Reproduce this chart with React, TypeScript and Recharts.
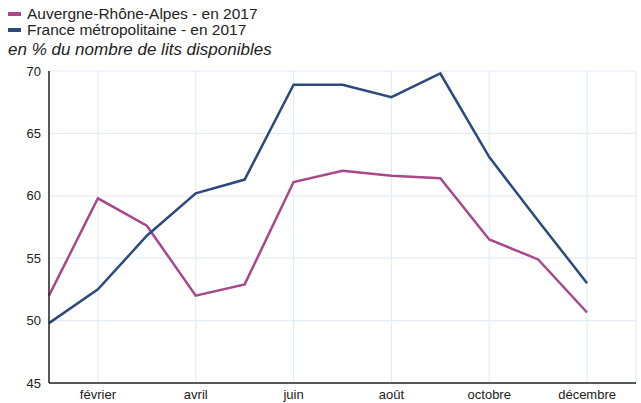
import React from "react";
import { LineChart, Line, XAxis, YAxis, CartesianGrid } from "recharts";

const months = ["janvier", "février", "mars", "avril", "mai", "juin", "juillet", "août", "septembre", "octobre", "novembre", "décembre"];
const auvergne = [52.0, 59.8, 57.6, 52.0, 52.9, 61.1, 62.0, 61.6, 61.4, 56.5, 54.9, 50.65];
const france = [49.8, 52.5, 56.8, 60.2, 61.3, 68.9, 68.9, 67.9, 69.8, 63.1, 58.0, 53.0];
const xTicks = [2, 4, 6, 8, 10, 12];
const yTicks = [45, 50, 55, 60, 65, 70];
const seriesNames = ["Auvergne-Rhône-Alpes - en 2017", "France métropolitaine - en 2017"];
const colors = ["#a8488a", "#2d4a7c"];
const title = "en % du nombre de lits disponibles";

const data = months.map((m, i) => ({ x: i + 1, month: m, a: auvergne[i], f: france[i] }));

const font = "'Liberation Sans', Arial, sans-serif";

export default function App() {
  return (
    <div style={{ position: "absolute", left: 0, top: 0, width: 641, height: 403, background: "#fff" }}>
      <LineChart width={641} height={403} data={data} margin={{ top: 71, right: 5, bottom: 0, left: 0 }}>
        <CartesianGrid stroke="#e3ecf6" strokeWidth={1.2} />
        <XAxis
          dataKey="x"
          type="number"
          domain={[1, 13]}
          ticks={xTicks}
          tickFormatter={(v: number) => months[v - 1]}
          axisLine={{ stroke: "#222", strokeWidth: 1.5 }}
          tickLine={false}
          tickMargin={1}
          height={20}
          tick={{ fontFamily: font, fontSize: 13, fill: "#222" }}
          interval={0}
        />
        <YAxis
          type="number"
          domain={[45, 70]}
          ticks={yTicks}
          width={49}
          axisLine={{ stroke: "#222", strokeWidth: 1.5 }}
          tickLine={false}
          tickMargin={2}
          tick={{ fontFamily: font, fontSize: 13, fill: "#222" }}
          interval={0}
        />
        <Line dataKey="a" name={seriesNames[0]} stroke={colors[0]} strokeWidth={2.5} dot={false} isAnimationActive={false} />
        <Line dataKey="f" name={seriesNames[1]} stroke={colors[1]} strokeWidth={2.5} dot={false} isAnimationActive={false} />
      </LineChart>
      <div style={{ position: "absolute", left: 8, top: 6, fontFamily: font, fontSize: 14, color: "#222", lineHeight: "16px" }}>
        {seriesNames.map((n, i) => (
          <div key={i} style={{ display: "flex", alignItems: "center", height: 16 }}>
            <span style={{ display: "inline-block", width: 13, height: 4, background: colors[i], marginRight: 6 }} />
            <span style={{ display: "inline-block", transform: "scaleX(1.105)", transformOrigin: "left center" }}>{n}</span>
          </div>
        ))}
      </div>
      <div style={{ position: "absolute", left: 8, top: 40, fontFamily: font, fontStyle: "italic", fontSize: 17, color: "#222" }}>
        {title}
      </div>
    </div>
  );
}
